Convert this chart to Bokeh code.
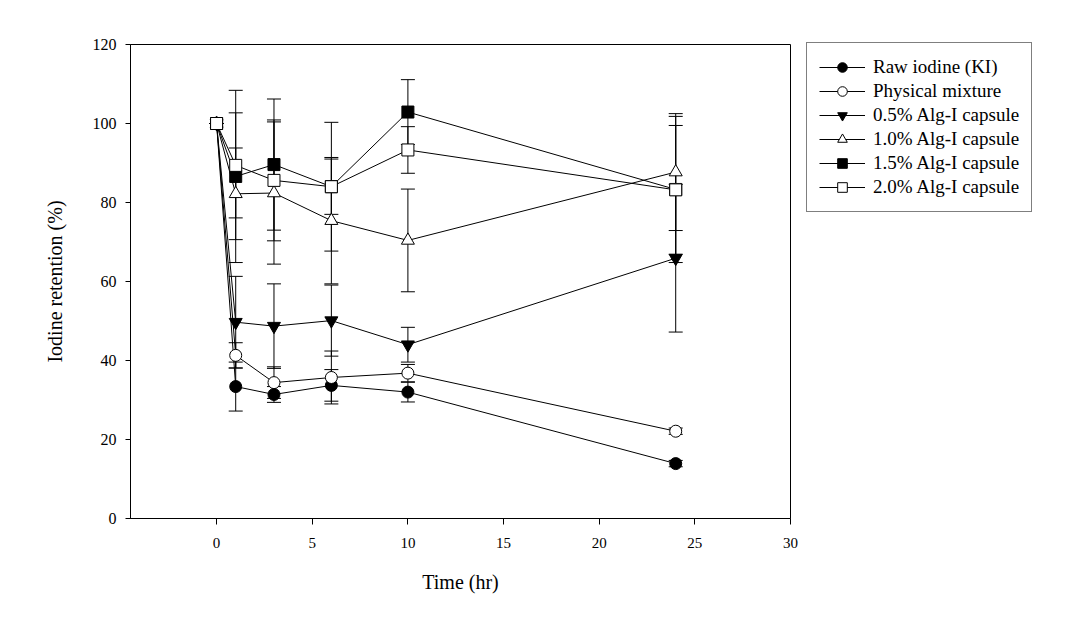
from bokeh.plotting import figure
from bokeh.models import ColumnDataSource, Whisker, TeeHead, Legend, LegendItem, Range1d, FixedTicker
from bokeh.embed import file_html
from bokeh.resources import INLINE

time = [0, 1, 3, 6, 10, 24]
series_names = ["Raw iodine (KI)", "Physical mixture", "0.5% Alg-I capsule",
                "1.0% Alg-I capsule", "1.5% Alg-I capsule", "2.0% Alg-I capsule"]
ki = [100, 33.4, 31.4, 33.7, 32.0, 13.9]
ki_sd = [0, 6.2, 2.0, 4.0, 2.5, 0.8]
pm = [100, 41.3, 34.4, 35.7, 36.8, 22.1]
pm_sd = [0, 3.2, 4.0, 6.7, 2.2, 0.8]
a05 = [100, 49.7, 48.7, 50.1, 44.0, 65.9]
a05_sd = [0, 11.6, 10.7, 9.0, 4.4, 18.7]
a10 = [100, 82.2, 82.4, 75.4, 70.4, 87.7]
a10_sd = [0, 11.6, 18.0, 16.0, 13.0, 14.8]
a15 = [100, 86.6, 89.6, 84.0, 102.9, 83.3]
a15_sd = [0, 21.8, 16.6, 16.3, 8.2, 18.5]
a20 = [100, 89.4, 85.6, 84.0, 93.3, 83.2]
a20_sd = [0, 13.3, 15.3, 7.0, 5.9, 16.3]
x_ticks = [0, 5, 10, 15, 20, 25, 30]
y_ticks = [0, 20, 40, 60, 80, 100, 120]

FONT = "Liberation Serif"

p = figure(frame_width=660, frame_height=474, output_backend="svg", toolbar_location=None,
           x_range=Range1d(-4.5, 30), y_range=Range1d(0, 120),
           min_border_left=130, min_border_right=10, min_border_top=44, min_border_bottom=90)
p.grid.visible = False
p.outline_line_color = "black"
p.outline_line_width = 1
p.background_fill_color = "white"

for ax in (p.xaxis[0], p.yaxis[0]):
    ax.axis_line_color = "black"
    ax.major_tick_line_color = "black"
    ax.minor_tick_line_color = None
    ax.major_tick_in = 0
    ax.major_label_text_font = FONT
    ax.major_label_text_font_size = "15px"
    ax.major_label_text_color = "black"
    ax.axis_label_text_font = FONT
    ax.axis_label_text_font_size = "20px"
    ax.axis_label_text_font_style = "normal"
    ax.axis_label_text_color = "black"

p.yaxis.major_label_text_font_size = "16px"
p.xaxis.ticker = FixedTicker(ticks=x_ticks)
p.yaxis.ticker = FixedTicker(ticks=y_ticks)
p.xaxis.major_tick_out = 6
p.yaxis.major_tick_out = 5
p.xaxis.major_label_standoff = 13
p.yaxis.major_label_standoff = 9
p.xaxis.axis_label = "Time (hr)"
p.yaxis.axis_label = "Iodine retention (%)"
p.xaxis.axis_label_standoff = 20
p.yaxis.axis_label_standoff = 24

vals = [ki, pm, a05, a10, a15, a20]
sds = [ki_sd, pm_sd, a05_sd, a10_sd, a15_sd, a20_sd]
markers = ["circle", "circle", "inverted_triangle", "triangle", "square", "square"]
fills = ["black", "white", "black", "white", "black", "white"]
sizes = [12, 12, 13, 13, 12, 12]

# error bars
for v, s in zip(vals, sds):
    src = ColumnDataSource(dict(x=time, lo=[a - b for a, b in zip(v, s)], hi=[a + b for a, b in zip(v, s)]))
    w = Whisker(source=src, base="x", lower="lo", upper="hi", dimension="height",
                line_color="black", line_width=1,
                upper_head=TeeHead(size=14, line_color="black", line_width=1),
                lower_head=TeeHead(size=14, line_color="black", line_width=1))
    p.add_layout(w)

items = []
for name, v, m, f, sz in zip(series_names, vals, markers, fills, sizes):
    src = ColumnDataSource(dict(x=time, y=v))
    ln = p.line("x", "y", source=src, line_color="black", line_width=1)
    sc = p.scatter("x", "y", source=src, marker=m, size=sz, fill_color=f, line_color="black", line_width=1)
    items.append(LegendItem(label=name, renderers=[ln, sc]))

legend = Legend(items=items, location=(16, 306), orientation="vertical",
                label_text_font=FONT, label_text_font_size="19px", label_text_color="black",
                glyph_width=46, glyph_height=24, spacing=0, label_standoff=8, label_height=24,
                padding=12, margin=0, border_line_color="black", border_line_width=1,
                background_fill_color="white", background_fill_alpha=1)
p.add_layout(legend, "right")

open("out.html", "w").write(file_html(p, INLINE))
